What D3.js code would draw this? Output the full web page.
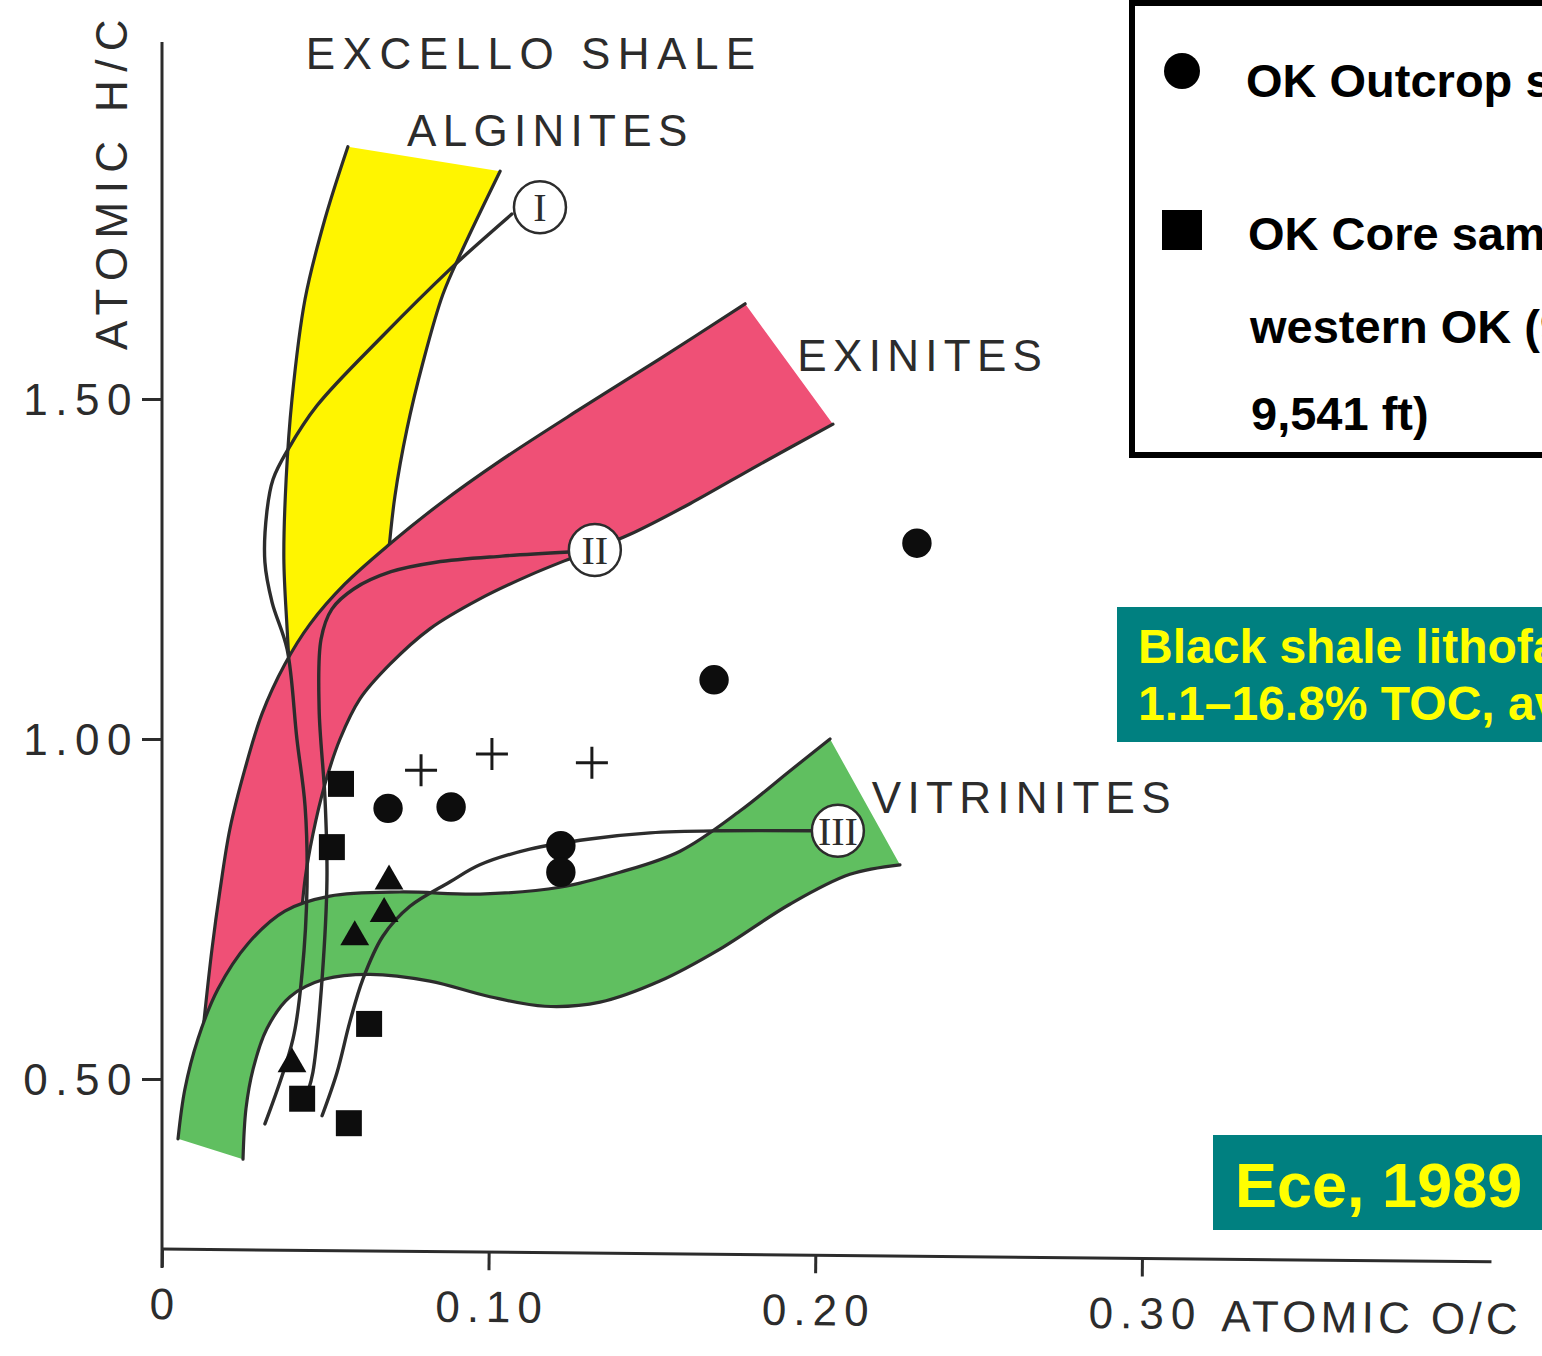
<!DOCTYPE html>
<html>
<head>
<meta charset="utf-8">
<script src="https://cdn.jsdelivr.net/npm/d3@7"></script>
<style>
  html, body { margin: 0; padding: 0; background: #ffffff; }
  svg { display: block; overflow: hidden; }
</style>
</head>
<body>
<svg id="chart" width="1542" height="1356"></svg>
<script>
// ---- Axis ticks -------------------------------------------------------
const yTicks = [0.5, 1.0, 1.5];
const yTickLabels = ["0.50", "1.00", "1.50"];
const xTicks = [0, 0.1, 0.2, 0.3];
const xTickLabels = ["0", "0.10", "0.20", "0.30"];

// ---- Maceral fields, [O/C, H/C] along each boundary -------------------
const alginiteLeft = [[0.0569,1.871],[0.0499,1.765],[0.0438,1.647],[0.0398,1.500],[0.0380,1.382],[0.0373,1.265],[0.0383,1.162],[0.0392,1.088]];
const alginiteRight = [[0.1035,1.835],[0.0921,1.721],[0.0860,1.654],[0.0799,1.554],[0.0750,1.456],[0.0713,1.357],[0.0692,1.265]];

const exiniteUpper = [[0.1785,1.640],[0.1524,1.559],[0.1279,1.485],[0.1035,1.409],[0.0851,1.346],[0.0698,1.287],[0.0560,1.228],[0.0453,1.169],[0.0376,1.110],[0.0306,1.037],[0.0254,0.956],[0.0208,0.868],[0.0178,0.779],[0.0153,0.691],[0.0126,0.574]];
const exiniteLower = [[0.2054,1.463],[0.1830,1.404],[0.1616,1.346],[0.1433,1.301],[0.1279,1.271],[0.1126,1.241],[0.0973,1.206],[0.0820,1.162],[0.0698,1.110],[0.0606,1.059],[0.0545,1.000],[0.0499,0.934],[0.0462,0.860],[0.0438,0.794],[0.0416,0.676]];

const vitriniteUpper = [[0.0049,0.412],[0.0070,0.485],[0.0110,0.559],[0.0171,0.632],[0.0263,0.699],[0.0376,0.747],[0.0514,0.769],[0.0728,0.775],[0.0973,0.772],[0.1218,0.782],[0.1402,0.804],[0.1586,0.835],[0.1769,0.894],[0.1922,0.953],[0.2045,1.000]];
const vitriniteLower = [[0.0248,0.382],[0.0257,0.456],[0.0279,0.515],[0.0321,0.574],[0.0392,0.621],[0.0499,0.647],[0.0637,0.654],[0.0820,0.644],[0.1004,0.621],[0.1172,0.607],[0.1341,0.613],[0.1524,0.644],[0.1708,0.691],[0.1922,0.757],[0.2106,0.801],[0.2259,0.815]];

// ---- Kerogen evolution paths I, II, III -------------------------------
const pathI = [[0.1071,1.772],[0.0983,1.735],[0.0882,1.691],[0.0676,1.593],[0.0474,1.490],[0.0386,1.426],[0.0340,1.382],[0.0321,1.334],[0.0315,1.260],[0.0337,1.201],[0.0383,1.132],[0.0413,1.000],[0.0438,0.901],[0.0444,0.784],[0.0429,0.657],[0.0401,0.559],[0.0315,0.434]];
const pathII = [[0.1246,1.275],[0.1041,1.269],[0.0839,1.260],[0.0701,1.246],[0.0588,1.221],[0.0520,1.191],[0.0487,1.147],[0.0481,1.044],[0.0499,0.912],[0.0505,0.794],[0.0490,0.647],[0.0462,0.510],[0.0447,0.482]];
const pathIII = [[0.1990,0.865],[0.1708,0.865],[0.1494,0.862],[0.1310,0.853],[0.1126,0.838],[0.0973,0.815],[0.0882,0.790],[0.0759,0.754],[0.0676,0.710],[0.0615,0.647],[0.0575,0.584],[0.0536,0.510],[0.0490,0.446]];
const pathLabels = ["I", "II", "III"];
const pathLabelAt = [[0.1157,1.782],[0.1325,1.278],[0.2069,0.865]];

// ---- Samples ------------------------------------------------------------
const outcropSamples = [[0.2311,1.288],[0.1690,1.087],[0.0692,0.898],[0.0885,0.900],[0.1221,0.843],[0.1221,0.804]];
const coreSamples = [[0.0548,0.934],[0.0520,0.841],[0.0634,0.581],[0.0429,0.471],[0.0572,0.435]];
const plusSamples = [[0.0793,0.954],[0.1010,0.978],[0.1316,0.965]];
const triangleSamples = [[0.0695,0.791],[0.0680,0.743],[0.0590,0.709],[0.0398,0.522]];

// ---- Field names --------------------------------------------------------
const fieldNames = ["EXCELLO SHALE", "ALGINITES", "EXINITES", "VITRINITES"];
const fieldNameAt = [[0.0440,1.985],[0.0750,1.872],[0.1945,1.541],[0.2173,0.891]];

// ---- Legend and notes -------------------------------------------------
const legendLines = ["OK Outcrop samples", "OK Core samples from", "western OK (9,521–", "9,541 ft)"];
const noteLines = ["Black shale lithofacies:", "1.1–16.8% TOC, avg. 9.1%"];
const sourceLabel = "Ece, 1989";

// ======================================================================
const svg = d3.select("#chart");
const SANS = "'Liberation Sans', Arial, Helvetica, sans-serif";
const SERIF = "'Liberation Serif', 'DejaVu Serif', serif";
const INK = "#2c2c2c";

const x = d3.scaleLinear().domain([0, 0.3]).range([162, 1142]);
const y = d3.scaleLinear().domain([0.5, 1.5]).range([1079, 399]);

const smooth = d3.line()
  .x(d => x(d[0])).y(d => y(d[1]))
  .curve(d3.curveCatmullRom.alpha(0.5));

// closed field outline: one edge out, the other edge back
function field(edgeA, edgeB) {
  const a = smooth(edgeA);
  const b = smooth(edgeB.slice().reverse());
  return a + "L" + b.slice(1) + "Z";
}

const fields = [
  { a: alginiteLeft, b: alginiteRight, fill: "#fff500" },
  { a: exiniteUpper, b: exiniteLower, fill: "#ef5076" },
  { a: vitriniteUpper, b: vitriniteLower, fill: "#60bf60" }
];

const fieldLayer = svg.append("g");
fields.forEach(f => {
  const g = fieldLayer.append("g");
  g.append("path").attr("d", field(f.a, f.b)).attr("fill", f.fill);
  [f.a, f.b].forEach(edge =>
    g.append("path").attr("d", smooth(edge))
      .attr("fill", "none").attr("stroke", INK).attr("stroke-width", 3.2)
      .attr("stroke-linecap", "round"));
});

// evolution paths
const pathLayer = svg.append("g");
[pathI, pathII, pathIII].forEach(p =>
  pathLayer.append("path").attr("d", smooth(p))
    .attr("fill", "none").attr("stroke", INK).attr("stroke-width", 3.4)
    .attr("stroke-linecap", "round"));

const badges = pathLayer.selectAll("g.badge").data(pathLabelAt).join("g")
  .attr("class", "badge")
  .attr("transform", d => `translate(${x(d[0])},${y(d[1])})`);
badges.append("circle").attr("r", 26).attr("fill", "#ffffff")
  .attr("stroke", INK).attr("stroke-width", 2.5);
badges.append("text").text((d, i) => pathLabels[i])
  .attr("text-anchor", "middle").attr("dy", "0.35em")
  .attr("font-family", SERIF).attr("font-size", 40)
  .attr("fill", INK);

// field names
svg.append("g").selectAll("text").data(fieldNameAt).join("text")
  .attr("x", d => x(d[0])).attr("y", d => y(d[1]))
  .text((d, i) => fieldNames[i])
  .attr("font-family", SANS).attr("font-size", 44)
  .attr("letter-spacing", (d, i) => i === 0 ? 7.5 : 6.3)
  .attr("fill", INK);

// samples
const marks = svg.append("g").attr("fill", "#0d0d0d");
const at = d => `translate(${x(d[0])},${y(d[1])})`;
marks.selectAll("path.outcrop").data(outcropSamples).join("path")
  .attr("class", "outcrop").attr("transform", at)
  .attr("d", d3.symbol(d3.symbolCircle, 680));
marks.selectAll("path.core").data(coreSamples).join("path")
  .attr("class", "core").attr("transform", at)
  .attr("d", d3.symbol(d3.symbolSquare, 676));
marks.selectAll("path.tri").data(triangleSamples).join("path")
  .attr("class", "tri").attr("transform", at)
  .attr("d", d3.symbol(d3.symbolTriangle, 360));
marks.selectAll("path.plus").data(plusSamples).join("path")
  .attr("class", "plus").attr("transform", at)
  .attr("d", "M-16,0H16M0,-16V16")
  .attr("fill", "none").attr("stroke", "#1a1a1a").attr("stroke-width", 3);

// ---- axes -------------------------------------------------------------
const yAxisG = svg.append("g").attr("transform", `translate(${x(0)},0)`);
yAxisG.call(d3.axisLeft(y).tickValues(yTicks).tickSize(20).tickPadding(3)
  .tickFormat((d, i) => yTickLabels[i]));
yAxisG.select(".domain").remove();
yAxisG.selectAll(".tick line").attr("stroke", INK).attr("stroke-width", 3);
yAxisG.selectAll(".tick text")
  .attr("font-family", SANS).attr("font-size", 44).attr("letter-spacing", 7.5)
  .attr("fill", INK).attr("dy", "0.36em");
yAxisG.append("line")
  .attr("x1", 0).attr("x2", 0).attr("y1", y(2.025)).attr("y2", y(0.222))
  .attr("stroke", INK).attr("stroke-width", 3);

const axisY = y(0.25);
const xAxisG = svg.append("g")
  .attr("transform", `rotate(0.55, ${x(0)}, ${axisY}) translate(0,${axisY})`);
xAxisG.call(d3.axisBottom(x).tickValues(xTicks).tickSize(18)
  .tickFormat((d, i) => xTickLabels[i]));
xAxisG.select(".domain").remove();
xAxisG.selectAll(".tick line").attr("stroke", INK).attr("stroke-width", 3);
xAxisG.selectAll(".tick text")
  .attr("font-family", SANS).attr("font-size", 44).attr("letter-spacing", 7)
  .attr("fill", INK).attr("y", 70).attr("dy", 0).attr("dx", 3.5);
xAxisG.append("line")
  .attr("x1", x(0)).attr("x2", x(0.407)).attr("y1", 0).attr("y2", 0)
  .attr("stroke", INK).attr("stroke-width", 3);
xAxisG.append("text").text("ATOMIC O/C")
  .attr("x", x(0.3245)).attr("y", 72)
  .attr("text-anchor", "start")
  .attr("font-family", SANS).attr("font-size", 44).attr("letter-spacing", 4.3)
  .attr("fill", INK);

svg.append("text").text("ATOMIC H/C")
  .attr("transform", "translate(127,350) rotate(-90)")
  .attr("font-family", SANS).attr("font-size", 44).attr("letter-spacing", 8.4)
  .attr("fill", INK);

// ---- legend -----------------------------------------------------------
const legend = svg.append("g");
legend.append("rect").attr("x", 1132).attr("y", 3).attr("width", 520).attr("height", 452)
  .attr("fill", "#ffffff").attr("stroke", "#000").attr("stroke-width", 6);
legend.append("circle").attr("cx", 1182).attr("cy", 71).attr("r", 18).attr("fill", "#000");
legend.append("rect").attr("x", 1162).attr("y", 210).attr("width", 40).attr("height", 40).attr("fill", "#000");
const legendX = [1246, 1248, 1250, 1251];
const legendBase = [97, 250, 343, 430];
legend.selectAll("text").data(legendLines).join("text")
  .attr("x", (d, i) => legendX[i]).attr("y", (d, i) => legendBase[i])
  .text(d => d)
  .attr("font-family", SANS).attr("font-weight", "bold").attr("font-size", 47)
  .attr("fill", "#000");

// ---- notes ------------------------------------------------------------
const note = svg.append("g");
note.append("rect").attr("x", 1117).attr("y", 607).attr("width", 500).attr("height", 135)
  .attr("fill", "#008080");
note.selectAll("text").data(noteLines).join("text")
  .attr("x", 1138).attr("y", (d, i) => [663, 720][i]).text(d => d)
  .attr("font-family", SANS).attr("font-weight", "bold").attr("font-size", 48)
  .attr("fill", "#ffff00");

const src = svg.append("g");
src.append("rect").attr("x", 1213).attr("y", 1135).attr("width", 400).attr("height", 95)
  .attr("fill", "#008080");
src.append("text").text(sourceLabel)
  .attr("x", 1235).attr("y", 1207)
  .attr("font-family", SANS).attr("font-weight", "bold").attr("font-size", 63)
  .attr("fill", "#ffff00");
</script>
</body>
</html>
